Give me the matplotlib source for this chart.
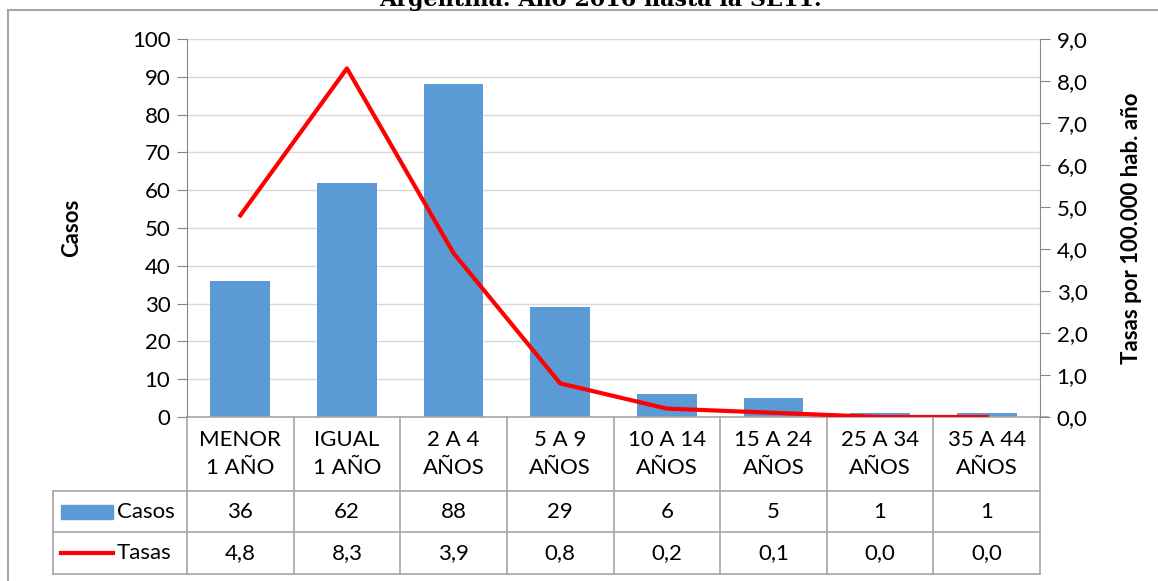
import matplotlib.pyplot as plt
from matplotlib.patches import Rectangle
from matplotlib.lines import Line2D

categorias = ["MENOR\n1 AÑO", "IGUAL\n1 AÑO", "2 A 4\nAÑOS", "5 A 9\nAÑOS",
              "10 A 14\nAÑOS", "15 A 24\nAÑOS", "25 A 34\nAÑOS", "35 A 44\nAÑOS"]
casos = [36, 62, 88, 29, 6, 5, 1, 1]
tasas = [4.8, 8.3, 3.9, 0.8, 0.2, 0.1, 0.0, 0.0]

AZUL = "#5B9BD5"
ROJO = "#FF0000"
GRIS = "#A6A6A6"
FS = 16

plt.rcParams['font.family'] = ['Lato', 'DejaVu Sans']

W, H = 1158, 581
fig = plt.figure(figsize=(W / 100, H / 100), dpi=100)

# plot area in pixel terms
x0, x1, ytop, ybot = 187, 1040, 39, 417
ax = fig.add_axes([x0 / W, 1 - ybot / H, (x1 - x0) / W, (ybot - ytop) / H])

n = len(casos)
xs = list(range(n))
ax.bar(xs, casos, width=0.56, color=AZUL, zorder=2)
ax.set_xlim(-0.5, n - 0.5)
ax.set_ylim(0, 100)
ax.set_yticks(range(0, 101, 10))
ax.set_xticks([])
ax.yaxis.grid(True, color="#D9D9D9", lw=1, zorder=0)
ax.tick_params(axis='y', labelsize=FS, length=7, color="#868686", pad=5)
for s in ["top", "right"]:
    ax.spines[s].set_visible(False)
ax.spines["left"].set_color("#868686")
ax.spines["bottom"].set_visible(False)
ax.set_ylabel("Casos", fontsize=FS, fontweight="bold", labelpad=36)

ax2 = ax.twinx()
ax2.plot(xs, tasas, color=ROJO, lw=3, zorder=3)
ax2.set_ylim(0, 9)
ax2.set_yticks([i for i in range(10)])
ax2.set_yticklabels([f"{i:.1f}".replace(".", ",") for i in range(10)])
ax2.tick_params(axis='y', labelsize=FS, length=7, color="#868686", pad=5)
for s in ["top", "left", "bottom"]:
    ax2.spines[s].set_visible(False)
ax2.spines["right"].set_color("#868686")
ax2.set_ylabel("Tasas por 100.000 hab. año", fontsize=FS, fontweight="bold", labelpad=24)

# data table below the plot (axes fraction coordinates)
ph = ybot - ytop
r0 = 0.0
r1 = -(491 - ybot) / ph
r2 = -(532 - ybot) / ph
r3 = -(574 - ybot) / ph
left = -(x0 - 53) / (x1 - x0)
tr = ax.transAxes
ext = 8 / (x1 - x0)

def hline(y, xa, xb):
    ax.add_line(Line2D([xa, xb], [y, y], transform=tr, color=GRIS, lw=1.2, clip_on=False))

def vline(x, ya, yb):
    ax.add_line(Line2D([x, x], [ya, yb], transform=tr, color=GRIS, lw=1.2, clip_on=False))

hline(r0, 0, 1 + ext)
hline(r1, left, 1)
hline(r2, left, 1)
hline(r3, left, 1)
for i in range(n + 1):
    vline(i / n, r0, r3)
vline(left, r1, r3)

for i in range(n):
    cx = (i + 0.5) / n
    ax.text(cx, (r0 + r1) / 2, categorias[i], transform=tr, ha="center", va="center",
            fontsize=FS, linespacing=1.5)
    ax.text(cx, (r1 + r2) / 2, str(casos[i]), transform=tr, ha="center", va="center", fontsize=FS)
    ax.text(cx, (r2 + r3) / 2, f"{tasas[i]:.1f}".replace(".", ","), transform=tr,
            ha="center", va="center", fontsize=FS)

# legend keys inside the table
kx0 = -(x0 - 61) / (x1 - x0)
kx1 = -(x0 - 113) / (x1 - x0)
ym1 = (r1 + r2) / 2
ym2 = (r2 + r3) / 2
ax.add_patch(Rectangle((kx0, ym1 - 7 / ph), kx1 - kx0, 14 / ph, transform=tr,
                       color=AZUL, clip_on=False))
ax.add_line(Line2D([kx0, kx1], [ym2, ym2], transform=tr, color=ROJO, lw=3, clip_on=False))
tx = -(x0 - 117) / (x1 - x0)
ax.text(tx, ym1, "Casos", transform=tr, ha="left", va="center", fontsize=FS)
ax.text(tx, ym2, "Tasas", transform=tr, ha="left", va="center", fontsize=FS)

# chart frame and clipped title
fig.add_artist(Line2D([8 / W, 1], [1 - 10 / H, 1 - 10 / H], transform=fig.transFigure,
                      color=GRIS, lw=1.5))
fig.add_artist(Line2D([8 / W, 8 / W], [0, 1 - 10 / H], transform=fig.transFigure,
                      color=GRIS, lw=1.5))
fig.text(600 / W, 1 - 6 / H, "Argentina. Año 2016 hasta la SE11.", ha="center",
         va="baseline", fontsize=16, fontweight="bold", family="DejaVu Serif")

fig.savefig("out.png", dpi=100)
